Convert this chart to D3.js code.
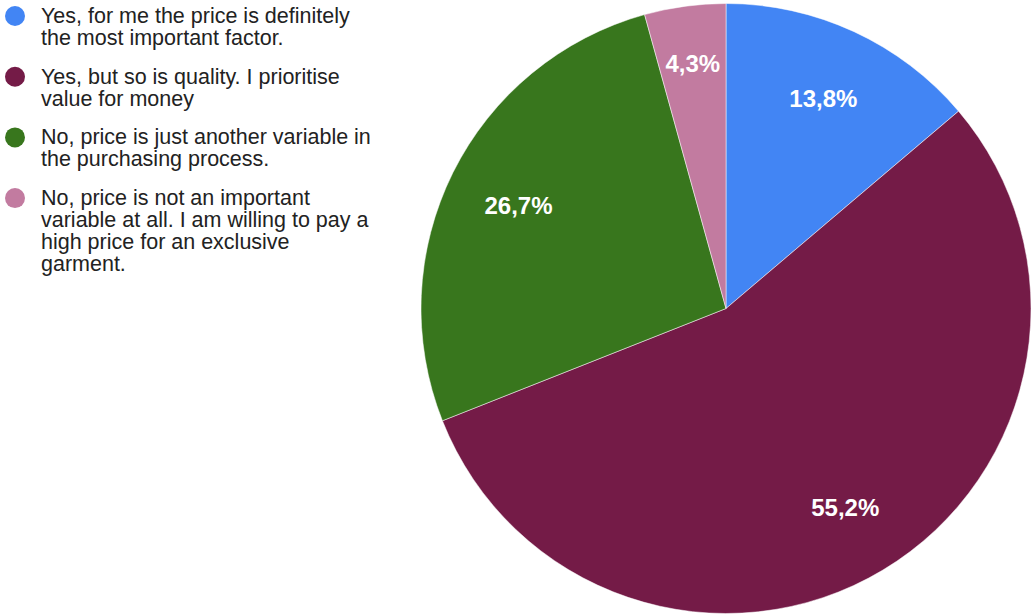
<!DOCTYPE html>
<html>
<head>
<meta charset="utf-8">
<script src="https://cdn.jsdelivr.net/npm/d3@7"></script>
<style>
  html, body { margin: 0; padding: 0; background: #fff; }
  svg { display: block; }
</style>
</head>
<body>
<svg id="chart" width="1033" height="616"></svg>
<script>
// Survey answers, shares in percent
const categories = [
  "Yes, for me the price is definitely the most important factor.",
  "Yes, but so is quality. I prioritise value for money",
  "No, price is just another variable in the purchasing process.",
  "No, price is not an important variable at all. I am willing to pay a high price for an exclusive garment."
];
const legendLines = [
  ["Yes, for me the price is definitely", "the most important factor."],
  ["Yes, but so is quality. I prioritise", "value for money"],
  ["No, price is just another variable in", "the purchasing process."],
  ["No, price is not an important", "variable at all. I am willing to pay a", "high price for an exclusive", "garment."]
];
const values = [13.8, 55.2, 26.7, 4.3];
const colors = ["#4285f4", "#741b47", "#38761d", "#c27ba0"];

const svg = d3.select("#chart");
const cx = 726, cy = 308.5, radius = 305;
const font = "Arial, 'Liberation Sans', sans-serif";

const data = categories.map((c, i) => ({ category: c, value: values[i], color: colors[i], lines: legendLines[i] }));

const pie = d3.pie().value(d => d.value).sort(null);
const arc = d3.arc().innerRadius(0).outerRadius(radius);

const g = svg.append("g").attr("transform", `translate(${cx},${cy})`);
const arcs = pie(data);

g.selectAll("path.slice")
  .data(arcs)
  .join("path")
  .attr("class", "slice")
  .attr("d", arc)
  .attr("fill", d => d.data.color)
  .attr("stroke", "#fff")
  .attr("stroke-width", 0.5);

// Percentage labels: narrow slices get their label pushed further out
const labelRadius = d => (d.endAngle - d.startAngle < 0.35 ? 0.81 : 0.76) * radius;
const fmt = v => v.toFixed(1).replace(".", ",") + "%";

g.selectAll("text.pct")
  .data(arcs)
  .join("text")
  .attr("class", "pct")
  .attr("transform", d => {
    const r = labelRadius(d);
    const c = d3.arc().innerRadius(r).outerRadius(r).centroid(d);
    return `translate(${c})`;
  })
  .attr("text-anchor", "middle")
  .attr("dominant-baseline", "central")
  .attr("font-family", font)
  .attr("font-size", 24)
  .attr("font-weight", "bold")
  .attr("fill", "#fff")
  .text(d => fmt(d.data.value));

// Legend
const legend = svg.append("g").attr("font-family", font).attr("font-size", 21.5);
const lineH = 22;
const gapAfter = 16.7;
let y = 23;
data.forEach(d => {
  const item = legend.append("g");
  item.append("circle").attr("cx", 15).attr("cy", y - 7).attr("r", 10).attr("fill", d.color);
  const t = item.append("text").attr("x", 41).attr("y", y).attr("fill", "#222");
  d.lines.forEach((ln, j) => {
    t.append("tspan").attr("x", 41).attr("y", y + j * lineH).text(ln);
  });
  y += d.lines.length * lineH + gapAfter;
});
</script>
</body>
</html>
